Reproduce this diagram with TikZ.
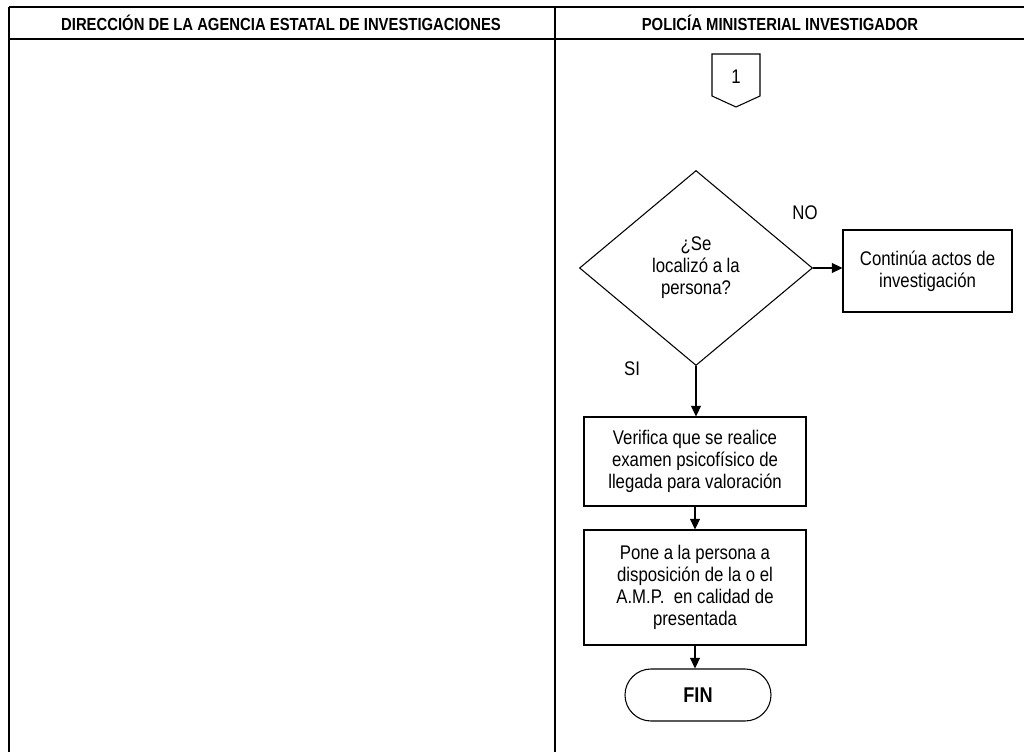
\documentclass[tikz,border=0pt]{standalone}
\usepackage{fontspec}
\setmainfont{Liberation Sans}[FakeStretch=0.85]
\usetikzlibrary{arrows.meta,shapes.geometric,calc}
\begin{document}
\begin{tikzpicture}[x=0.75pt,y=-0.75pt,
  frame/.style={line width=1.5pt},
  hdr/.style={font=\fontsize{13.1}{15}\selectfont\bfseries, inner sep=0pt},
  body/.style={font=\fontsize{14.8}{16.5}\selectfont, align=center},
  proc/.style={draw, line width=0.8pt, body, inner sep=0pt},
  decision/.style={draw, diamond, line width=0.8pt, body, inner sep=0pt, minimum width=174.75pt, minimum height=146.25pt},
  term/.style={draw, line width=0.8pt, body, inner sep=0pt, minimum width=109.5pt, minimum height=39pt, rounded corners=19.5pt},
  lbl/.style={font=\fontsize{14.8}{16.5}\selectfont, inner sep=0pt},
  flow/.style={line width=0.8pt, -{Triangle[length=8pt,width=7.5pt]}}
]
\useasboundingbox (0,0) rectangle (1024,752);
\clip (0,0) rectangle (1024,752);
\fill[white] (0,0) rectangle (1024,752);

% table frame
\draw[frame] (9,7) -- (1035,7);
\draw[frame] (9,39) -- (1035,39);
\draw[frame] (9,7) -- (9,760);
\draw[frame] (555,7) -- (555,760);

\node[hdr] (h1) at (281,23) {DIRECCIÓN DE LA AGENCIA ESTATAL DE INVESTIGACIONES};
\node[hdr] (h2) at (780,23) {POLICÍA MINISTERIAL INVESTIGADOR};

% off-page connector
\draw[line width=0.8pt] (712,54) -- (760,54) -- (760,96) -- (736,107) -- (712,96) -- cycle;
\node[lbl] (c1) at (736,77) {1};

% decision
\node[decision] (d) at (696,268) {¿Se\\localizó a la\\persona?};

\node[proc, minimum width=126.75pt, minimum height=61.5pt] (cont) at (927.5,271) {Continúa actos de\\investigación};

\node[proc, minimum width=166.5pt, minimum height=66.75pt] (ver) at (695,461.5) {Verifica que se realice\\examen psicofísico de\\llegada para valoración};

\node[proc, minimum width=166.5pt, minimum height=86.25pt] (pone) at (695,587.5) {Pone a la persona a\\disposición de la o el\\A.M.P.\ \ en calidad de\\presentada};

\node[term, font=\fontsize{16}{18}\selectfont\bfseries] (fin) at (698,695) {FIN};

\node[lbl] (no) at (805,213) {NO};
\node[lbl] (si) at (632,369) {SI};

\draw[flow] (d.east) -- (d.east -| cont.west);
\draw[flow] (d.south) -- (d.south |- ver.north);
\draw[flow] (ver.south) -- (pone.north);
\draw[flow] (pone.south) -- (pone.south |- fin.north);
\end{tikzpicture}
\end{document}
